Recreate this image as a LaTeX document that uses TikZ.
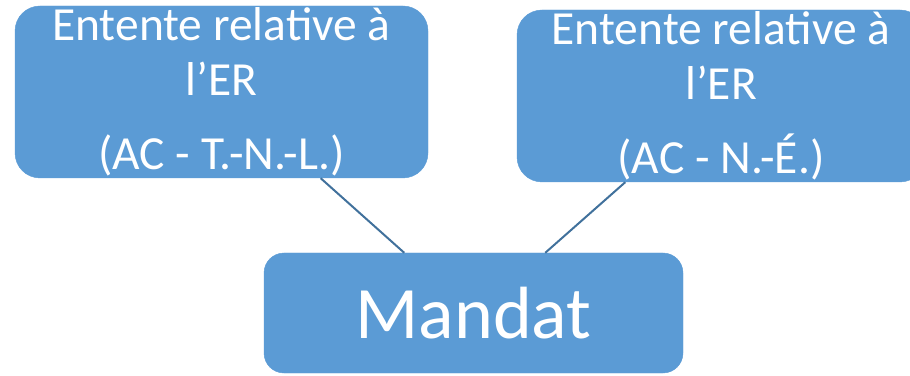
\documentclass[tikz,border=0pt]{standalone}
\usepackage{fontspec}
\setmainfont{Carlito}
\usepackage{xcolor}
\usepackage{tikz}
\usetikzlibrary{calc}
\definecolor{boxblue}{HTML}{5B9BD5}
\definecolor{linkblue}{HTML}{41719C}

\begin{document}
\begin{tikzpicture}[x=1pt,y=1pt,
  entente/.style={fill=boxblue, draw=boxblue, rounded corners=25pt, inner sep=0pt, text=white, align=center,
    font=\fontsize{47.5}{55}\selectfont},
  mandat/.style={fill=boxblue, draw=boxblue, rounded corners=20pt, inner sep=0pt, text=white,
    font=\fontsize{74}{88}\selectfont},
  link/.style={draw=linkblue, line width=2pt}]
\useasboundingbox (0,0) rectangle (910,375);
\node[entente, minimum width=413pt, minimum height=172pt] (tnl) at (221.5,283) {Entente relative à\\l’ER\\[19pt](AC - T.-N.-L.)}; %left
\node[entente, minimum width=408pt, minimum height=172pt] (ne) at (721,279) {Entente relative à\\l’ER\\[19pt](AC - N.-É.)}; %right, cut by the page
\node[mandat, minimum width=419pt, minimum height=120pt] (mandat) at (473.5,62) {Mandat};
\draw[link] (tnl.-41) -- (mandat.139);
\draw[link] (ne.-138) -- (mandat.40.5);
\end{tikzpicture}
\end{document}
